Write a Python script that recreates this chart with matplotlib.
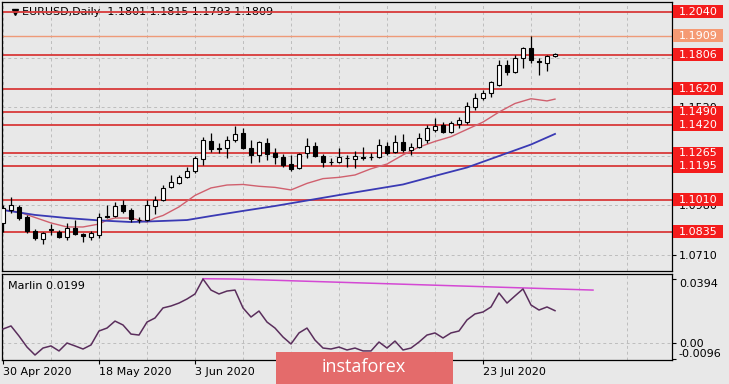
import matplotlib
matplotlib.use("Agg")
import matplotlib.pyplot as plt
import matplotlib.transforms as mtransforms
from matplotlib.patches import Rectangle

# ---------------- data ----------------
dates_lbl = ["30 Apr 2020", "18 May 2020", "3 Jun 2020", "23 Jul 2020"]
dates_idx = [0, 12, 24, 60]

opens = [1.0883, 1.0954, 1.0971, 1.0916, 1.0839, 1.0795, 1.0850, 1.0834, 1.0806, 1.0856,
         1.0823, 1.0806, 1.0817, 1.0921, 1.0921, 1.0982, 1.0954, 1.0899, 1.0899, 1.0976,
         1.1009, 1.1080, 1.1102, 1.1135, 1.1168, 1.1234, 1.1332, 1.1294, 1.1294, 1.1338,
         1.1376, 1.1294, 1.1256, 1.1321, 1.1267, 1.1245, 1.1206, 1.1184, 1.1267, 1.1305,
         1.1250, 1.1217, 1.1217, 1.1239, 1.1234, 1.1245, 1.1245, 1.1245, 1.1305, 1.1272,
         1.1327, 1.1283, 1.1299, 1.1338, 1.1393, 1.1420, 1.1382, 1.1425, 1.1436, 1.1519,
         1.1568, 1.1595, 1.1639, 1.1749, 1.1710, 1.1787, 1.1842, 1.1771, 1.1760, 1.1801]
highs = [1.0982, 1.1025, 1.0982, 1.0927, 1.0850, 1.0834, 1.0877, 1.0845, 1.0883, 1.0899,
         1.0828, 1.0839, 1.0938, 1.0982, 1.0998, 1.1009, 1.0965, 1.0916, 1.1009, 1.1031,
         1.1091, 1.1146, 1.1146, 1.1190, 1.1250, 1.1354, 1.1376, 1.1321, 1.1360, 1.1415,
         1.1404, 1.1338, 1.1332, 1.1349, 1.1294, 1.1261, 1.1256, 1.1267, 1.1349, 1.1327,
         1.1261, 1.1239, 1.1294, 1.1256, 1.1278, 1.1299, 1.1267, 1.1343, 1.1327, 1.1365,
         1.1371, 1.1321, 1.1376, 1.1420, 1.1458, 1.1436, 1.1442, 1.1464, 1.1546, 1.1595,
         1.1612, 1.1661, 1.1776, 1.1776, 1.1804, 1.1847, 1.1908, 1.1787, 1.1804, 1.1815]
lows = [1.0834, 1.0938, 1.0899, 1.0828, 1.0790, 1.0768, 1.0817, 1.0801, 1.0790, 1.0817,
        1.0779, 1.0790, 1.0801, 1.0910, 1.0916, 1.0938, 1.0888, 1.0883, 1.0894, 1.0932,
        1.1004, 1.1075, 1.1098, 1.1130, 1.1157, 1.1201, 1.1272, 1.1267, 1.1239, 1.1327,
        1.1290, 1.1212, 1.1217, 1.1228, 1.1206, 1.1190, 1.1168, 1.1179, 1.1239, 1.1245,
        1.1190, 1.1201, 1.1212, 1.1190, 1.1184, 1.1228, 1.1228, 1.1239, 1.1256, 1.1267,
        1.1272, 1.1256, 1.1294, 1.1321, 1.1382, 1.1376, 1.1376, 1.1404, 1.1425, 1.1502,
        1.1557, 1.1573, 1.1634, 1.1694, 1.1705, 1.1732, 1.1760, 1.1694, 1.1716, 1.1793]
closes = [1.0965, 1.0982, 1.0910, 1.0839, 1.0801, 1.0828, 1.0845, 1.0806, 1.0856, 1.0823,
          1.0812, 1.0828, 1.0916, 1.0918, 1.0976, 1.0949, 1.0905, 1.0901, 1.0982, 1.1009,
          1.1075, 1.1108, 1.1135, 1.1168, 1.1239, 1.1338, 1.1288, 1.1290, 1.1338, 1.1371,
          1.1294, 1.1256, 1.1327, 1.1261, 1.1245, 1.1201, 1.1179, 1.1261, 1.1305, 1.1250,
          1.1217, 1.1219, 1.1245, 1.1241, 1.1250, 1.1239, 1.1247, 1.1310, 1.1267, 1.1327,
          1.1283, 1.1299, 1.1349, 1.1404, 1.1415, 1.1382, 1.1431, 1.1447, 1.1524, 1.1568,
          1.1595, 1.1656, 1.1749, 1.1710, 1.1787, 1.1842, 1.1776, 1.1768, 1.1798, 1.1809]

ma_red_idx = [0, 2, 4, 6, 8, 10, 12, 13, 14, 16, 17, 18, 19, 20, 22, 24, 26, 28, 30, 32,
              34, 36, 38, 40, 42, 44, 46, 48, 50, 52, 54, 56, 58, 60, 62, 64, 66, 68, 69]
ma_red = [1.0954, 1.0943, 1.0913, 1.0883, 1.0861, 1.0861, 1.0877, 1.0899, 1.0910, 1.0910,
          1.0899, 1.0888, 1.0910, 1.0924, 1.0971, 1.1034, 1.1075, 1.1091, 1.1094, 1.1084,
          1.1078, 1.1064, 1.1100, 1.1126, 1.1133, 1.1146, 1.1180, 1.1206, 1.1256, 1.1299,
          1.1330, 1.1356, 1.1396, 1.1436, 1.1491, 1.1538, 1.1564, 1.1552, 1.1562]

ma_blue_idx = [0, 4, 8, 12, 16, 20, 23, 26, 30, 34, 38, 42, 46, 50, 54, 58, 62, 66, 69]
ma_blue = [1.0954, 1.0927, 1.0910, 1.0897, 1.0888, 1.0894, 1.0899, 1.0921, 1.0949, 1.0976,
           1.1006, 1.1036, 1.1065, 1.1094, 1.1141, 1.1187, 1.1250, 1.1313, 1.1371]

levels = [1.2040, 1.1909, 1.1806, 1.1620, 1.1490, 1.1420, 1.1265, 1.1195, 1.1010, 1.0835]
level_kind = ["r", "o", "r", "r", "r", "r", "r", "r", "r", "r"]
price_ticks = [1.0710, 1.0980, 1.1250, 1.1520, 1.1790]
price_tick_lbl = ["1.0710", "1.0980", "", "1.1520", ""]   # others hidden under level boxes

marlin = [0.0086, 0.0105, 0.0043, -0.0025, -0.0074, -0.0031, -0.0018, -0.0049, 0.0000, -0.0018,
          -0.0037, -0.0012, 0.0074, 0.0092, 0.0135, 0.0111, 0.0055, 0.0049, 0.0129, 0.0154,
          0.0216, 0.0228, 0.0246, 0.0271, 0.0302, 0.0394, 0.0326, 0.0302, 0.0320, 0.0326,
          0.0216, 0.0160, 0.0197, 0.0129, 0.0092, 0.0037, -0.0006, 0.0062, 0.0092, 0.0018,
          -0.0031, -0.0037, -0.0025, -0.0043, -0.0031, -0.0049, -0.0049, 0.0006, -0.0031, 0.0012,
          -0.0043, -0.0031, 0.0006, 0.0049, 0.0062, 0.0031, 0.0062, 0.0074, 0.0142, 0.0179,
          0.0191, 0.0222, 0.0308, 0.0246, 0.0290, 0.0333, 0.0234, 0.0203, 0.0222, 0.0199]
trend_idx = [25, 29, 73.75]
trend_val = [0.0396, 0.0394, 0.0326]
marlin_ticks = [0.0394, 0.0, -0.0096]
marlin_tick_lbl = ["0.0394", "0.00", "-0.0096"]

# ---------------- style ----------------
BG = "#E8E8E8"
GRID = "#BDBDBD"
W, H = 729, 384
fig = plt.figure(figsize=(W / 100, H / 100), dpi=100, facecolor=BG)
ax = fig.add_axes([2 / W, 1 - 271 / H, 670 / W, 269 / H], facecolor=BG)
axl = fig.add_axes([2 / W, 1 - 360 / H, 670 / W, 86 / H], facecolor=BG)

XL = (-0.125, 83.625)
for a in (ax, axl):
    a.set_xlim(*XL)
    for s in a.spines.values():
        s.set_color("black")
        s.set_linewidth(0.9)
    for gx in range(0, 84, 6):
        a.axvline(gx, color=GRID, lw=0.7, ls=(0, (3, 3)), zorder=0.5)

ax.set_ylim(1.06196, 1.20943)
axl.set_ylim(-0.01047, 0.0425)

# grid horizontal
for t in price_ticks:
    ax.axhline(t, color=GRID, lw=0.7, ls=(0, (3, 3)), zorder=0.5)
axl.axhline(0.0, color=GRID, lw=0.7, ls=(0, (3, 3)), zorder=0.5)

# level lines
for lv, k in zip(levels, level_kind):
    if k == "r":
        ax.axhline(lv, color="#D83A3A", lw=1.3, zorder=1)
    else:
        ax.axhline(lv, color="#EE9A78", lw=1.0, zorder=1)

# moving averages
ax.plot(ma_red_idx, ma_red, color="#D0606E", lw=1.0, zorder=2)
ax.plot(ma_blue_idx, ma_blue, color="#3A3AB4", lw=1.3, zorder=2)

# candles
xs = list(range(len(opens)))
ax.vlines(xs, lows, highs, color="black", lw=0.9, zorder=3)
for i in xs:
    o, c = opens[i], closes[i]
    up = c >= o
    ax.bar(i, abs(c - o) if abs(c - o) > 0 else 0.00002, bottom=min(o, c), width=0.6,
           color="white" if up else "black", edgecolor="black", lw=0.8, zorder=4)

# right axis
ax.yaxis.tick_right()
ax.set_yticks(price_ticks)
ax.set_yticklabels(price_tick_lbl)
ax.tick_params(axis="y", length=3, pad=2, labelsize=8, colors="black", width=0.8)
ax.set_xticks([])

# level label boxes
tr = mtransforms.blended_transform_factory(ax.transAxes, ax.transData)
bh = 13 / 1824.0
for lv, k in zip(levels, level_kind):
    fc = "#F41C1C" if k == "r" else "#F59A74"
    ax.add_patch(Rectangle((1.0015, lv - bh / 2), 0.0746, bh, transform=tr, fc=fc, ec="none",
                           clip_on=False, zorder=6))
    ax.text(1.0015 + 0.0373, lv, f"{lv:.4f}", transform=tr, ha="center", va="center",
            fontsize=8, color="white", clip_on=False, zorder=7)

# header
ax.plot([13 / 670], [(271 - 12) / 269], marker="v", ms=5, color="black",
        transform=ax.transAxes, clip_on=False, zorder=0.8)
ax.text(20 / 670, (271 - 12) / 269, "EURUSD,Daily  1.1801 1.1815 1.1793 1.1809",
        transform=ax.transAxes, fontsize=8, va="center", ha="left", color="black", zorder=0.8)

# lower panel
axl.plot(xs, marlin, color="#5A2E5C", lw=1.1, zorder=3)
axl.plot(trend_idx, trend_val, color="#D448D4", lw=1.1, zorder=2)
axl.yaxis.tick_right()
axl.set_yticks(marlin_ticks)
axl.set_yticklabels(marlin_tick_lbl)
axl.tick_params(axis="y", length=3, pad=2, labelsize=8, width=0.8)
labs = axl.get_yticklabels()
labs[0].set_va("top")
labs[2].set_va("bottom")
axl.text(6 / 670, (360 - 286) / 86, "Marlin 0.0199", transform=axl.transAxes,
         fontsize=8, va="center", ha="left")

axl.set_xticks(dates_idx)
axl.set_xticklabels(dates_lbl, fontsize=8)
for lb in axl.get_xticklabels():
    lb.set_ha("left")
axl.tick_params(axis="x", length=3, pad=2, width=0.8)

# watermark
fig.add_artist(Rectangle((276 / W, 0), (453 - 276) / W, (384 - 352) / H,
                         transform=fig.transFigure, fc="#E46B6B", ec="none", zorder=10))
fig.text((364) / W, 1 - 367 / H, "instaforex", fontsize=13, color="white",
         family=["Open Sans", "DejaVu Sans"], ha="center", va="center", zorder=11)

fig.savefig("out.png", dpi=100, facecolor=BG)
